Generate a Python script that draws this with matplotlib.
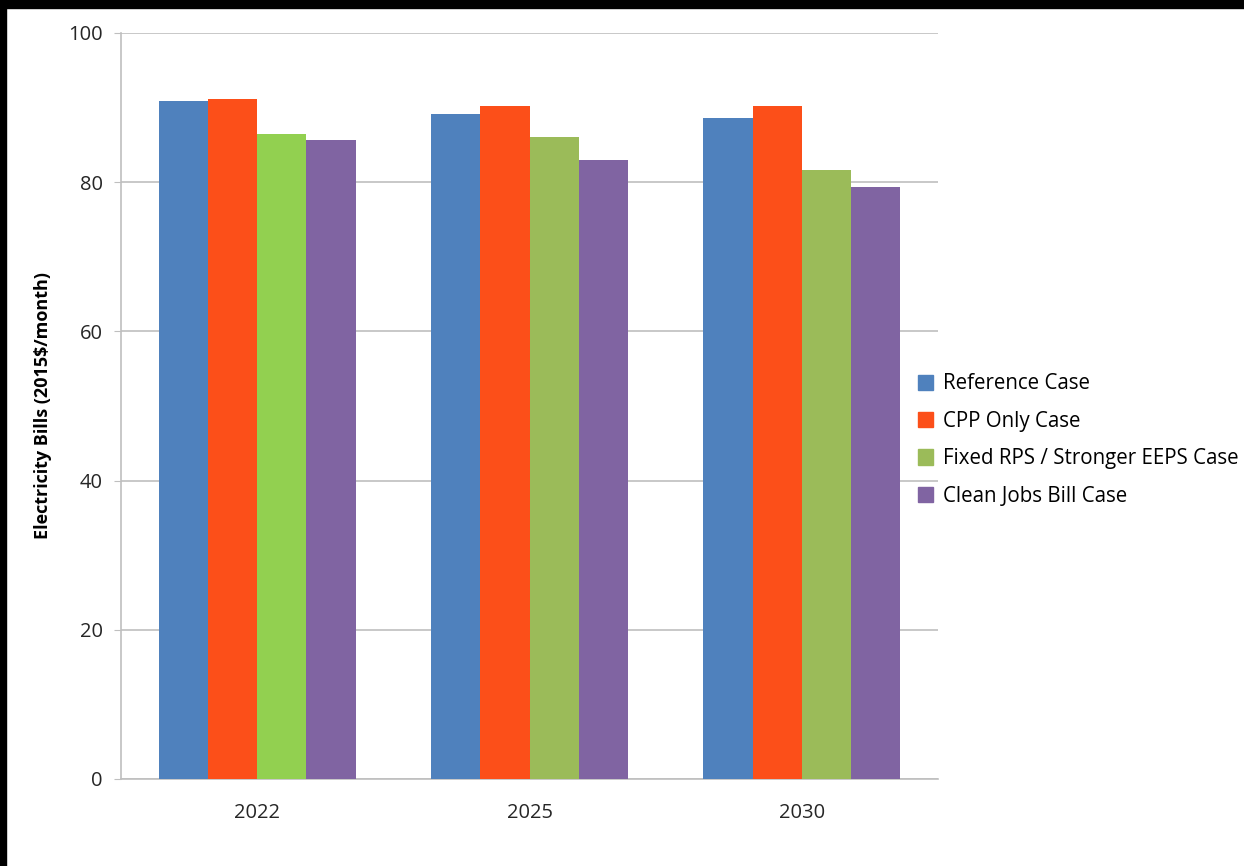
import numpy as np
import matplotlib.pyplot as plt
from matplotlib.patches import Rectangle, Patch

plt.rcParams['font.family'] = ['Open Sans', 'DejaVu Sans']

years = ['2022', '2025', '2030']
series = ['Reference Case', 'CPP Only Case', 'Fixed RPS / Stronger EEPS Case', 'Clean Jobs Bill Case']
reference = [90.9, 89.2, 88.6]
cpp_only = [91.1, 90.2, 90.2]
fixed_rps = [86.4, 86.1, 81.7]
clean_jobs = [85.6, 83.0, 79.4]

colors = ['#4F81BD', '#FC4F19', '#9BBB59', '#8064A2']
green_2022 = '#92D050'

fig = plt.figure(figsize=(12.44, 8.66), dpi=100)
ax = fig.add_axes([0.0973, 0.1005, 0.6567, 0.8614])

x = np.arange(len(years))
w = 0.181
values = [reference, cpp_only, fixed_rps, clean_jobs]
for i, vals in enumerate(values):
    c = [colors[i]] * len(years)
    if i == 2:
        c[0] = green_2022
    ax.bar(x + (i - 1.5) * w, vals, w, color=c, edgecolor='none', zorder=3)

ax.set_xlim(-0.5, 2.5)
ax.set_ylim(0, 100)
ax.set_yticks(range(0, 101, 20))
ax.set_xticks(x)
ax.set_xticklabels(years)
ax.yaxis.grid(True, color='#BFBFBF', linewidth=1.2, zorder=0)
ax.tick_params(axis='y', length=5, color='#BFBFBF', labelsize=14.5, pad=8, labelcolor='#262626')
ax.tick_params(axis='x', length=0, labelsize=14.5, pad=17, labelcolor='#262626')
for s in ['top', 'right']:
    ax.spines[s].set_visible(False)
ax.spines['left'].set_color('#BFBFBF')
ax.spines['bottom'].set_color('#BFBFBF')
ax.spines['left'].set_linewidth(1.2)
ax.spines['bottom'].set_linewidth(1.2)
ax.set_ylabel('Electricity Bills (2015$/month)', fontsize=13, fontweight='bold', labelpad=12)

handles = [Patch(color=c) for c in colors]
fig.legend(handles, series, loc='center left', bbox_to_anchor=(0.723, 0.492), frameon=False,
           fontsize=14.8, handlelength=0.75, handleheight=0.75, handletextpad=0.45, labelspacing=0.8)

# black border strips from the screenshot
fig.patches.append(Rectangle((0, 1 - 8 / 866), 1, 8 / 866, transform=fig.transFigure, color='black'))
fig.patches.append(Rectangle((0, 0), 6 / 1244, 1, transform=fig.transFigure, color='black'))

fig.savefig('out.png', dpi=100)
